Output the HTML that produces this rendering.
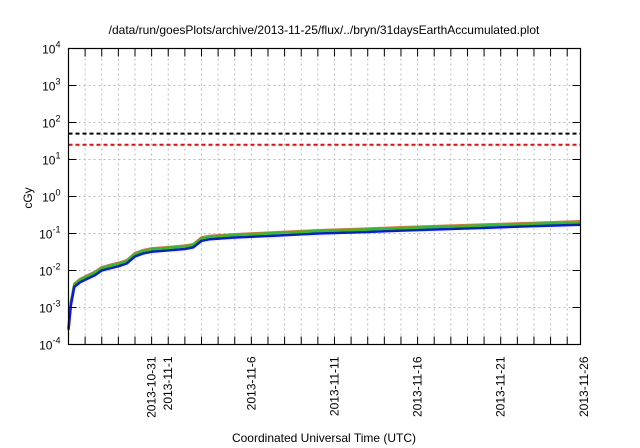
<!DOCTYPE html>
<html><head><meta charset="utf-8">
<style>
html,body{margin:0;padding:0;background:#fff;}
svg{display:block;font-family:"Liberation Sans",sans-serif;}
</style></head>
<body>
<svg id="chart" width="640" height="448" viewBox="0 0 640 448">
<text x="324" y="34" font-size="12" text-anchor="middle" fill="#000">/data/run/goesPlots/archive/2013-11-25/flux/../bryn/31daysEarthAccumulated.plot</text>
<text x="32" y="198" font-size="12" text-anchor="middle" transform="rotate(-90 32 198)">cGy</text>
<text x="324" y="442" font-size="12" text-anchor="middle">Coordinated Universal Time (UTC)</text>
<g id="grid"></g>
<g id="series"></g>
<g id="axes"></g>
</svg>
<script>
const yExponents = [-4,-3,-2,-1,0,1,2,3,4];
const xTickDays = [5,6,11,16,21,26,31];
const xTickLabels = ["2013-10-31","2013-11-1","2013-11-6","2013-11-11","2013-11-16","2013-11-21","2013-11-26"];
const days = [0,0.15,0.35,0.7,1.2,1.6,2.0,2.5,3.0,3.5,4.0,4.5,5.0,6.0,7.0,7.5,8.0,8.5,10,12.5,15,17.5,20,22.5,25,28,30.8];
const blueSeries = [2.5e-4,1.2e-3,3.6e-3,4.8e-3,6.2e-3,7.5e-3,1.0e-2,1.15e-2,1.3e-2,1.55e-2,2.4e-2,2.9e-2,3.2e-2,3.5e-2,3.8e-2,4.2e-2,6.3e-2,7.0e-2,7.8e-2,8.8e-2,1.0e-1,1.08e-1,1.2e-1,1.3e-1,1.42e-1,1.58e-1,1.72e-1];
const greenSeries = [2.8e-4,1.4e-3,4.2e-3,5.6e-3,7.2e-3,8.8e-3,1.17e-2,1.35e-2,1.52e-2,1.8e-2,2.8e-2,3.4e-2,3.75e-2,4.1e-2,4.45e-2,4.9e-2,7.4e-2,8.2e-2,9.1e-2,1.03e-1,1.17e-1,1.27e-1,1.4e-1,1.52e-1,1.66e-1,1.84e-1,2.0e-1];
const redSeries = [2.9e-4,1.5e-3,4.4e-3,5.9e-3,7.6e-3,9.3e-3,1.23e-2,1.42e-2,1.6e-2,1.9e-2,2.95e-2,3.55e-2,3.95e-2,4.3e-2,4.7e-2,5.15e-2,7.8e-2,8.6e-2,9.6e-2,1.08e-1,1.23e-1,1.33e-1,1.47e-1,1.6e-1,1.75e-1,1.94e-1,2.15e-1];
const thresholdValues = [50,25];

const L=68.5,R=580.5,T=48.5,B=344.5,DAYSPAN=30.8;
const NS="http://www.w3.org/2000/svg";
function xs(d){return L+(d/DAYSPAN)*(R-L);}
function ys(v){return B-(Math.log10(v)+4)/8*(B-T);}
function mk(tag,attrs,parent){const e=document.createElementNS(NS,tag);for(const k in attrs)e.setAttribute(k,attrs[k]);parent.appendChild(e);return e;}
const grid=document.getElementById('grid'),axes=document.getElementById('axes'),series=document.getElementById('series');

for(let d=1;d<=30;d++){
  const x=xs(d);
  const g=mk('line',{x1:x,x2:x,y1:T,y2:B,stroke:'#bbb','stroke-width':1,'stroke-dasharray':'2,3'},grid);
  
  
  const t1=mk('line',{x1:x,x2:x,y1:B,y2:B-8,stroke:'#000','stroke-width':1},axes);
  
  
  const t2=mk('line',{x1:x,x2:x,y1:T,y2:T+8,stroke:'#000','stroke-width':1},axes);
  
  
}
yExponents.forEach(e=>{
  const y=ys(Math.pow(10,e));
  if(e>-4&&e<4){
    const g=mk('line',{x1:L,x2:R,y1:y,y2:y,stroke:'#bbb','stroke-width':1,'stroke-dasharray':'2,3'},grid);
    
    
  }
  const t1=mk('line',{x1:L,x2:L+8,y1:y,y2:y,stroke:'#000'},axes);
  
  
  const t2=mk('line',{x1:R,x2:R-8,y1:y,y2:y,stroke:'#000'},axes);
  
  
  const tx=mk('text',{x:L-8,y:y+5,'font-size':12,'text-anchor':'end'},axes);
  
  
  tx.textContent='10';
  const sp=mk('tspan',{dy:-6,'font-size':9},tx);sp.textContent=String(e);
});
xTickDays.forEach((d,i)=>{
  const x=xs(d);
  const tx=mk('text',{x:0,y:0,'font-size':12,'text-anchor':'end',transform:`translate(${x+4},${B+12}) rotate(-90)`},axes);
  
  
  tx.textContent=xTickLabels[i];
});
const thColors=['#000','#f00'];
thresholdValues.forEach((v,i)=>{
  const y=ys(v);
  const l=mk('line',{x1:L,x2:R,y1:y,y2:y,stroke:thColors[i],'stroke-width':2,'stroke-dasharray':'4,3'},series);
  
  
});
function drawSeries(vals,color,name){
  const pts=days.map((d,i)=>xs(d).toFixed(1)+','+ys(vals[i]).toFixed(1)).join(' ');
  const p=mk('polyline',{points:pts,fill:'none',stroke:color,'stroke-width':2.5,'stroke-linejoin':'round'},series);
  
  
}
drawSeries(redSeries,'#e8703a','series-red');
drawSeries(greenSeries,'#1ec81e','series-green');
drawSeries(blueSeries,'#1010f0','series-blue');
const f=mk('rect',{x:L,y:T,width:R-L,height:B-T,fill:'none',stroke:'#000','stroke-width':1.2},axes);


</script>
</body></html>
